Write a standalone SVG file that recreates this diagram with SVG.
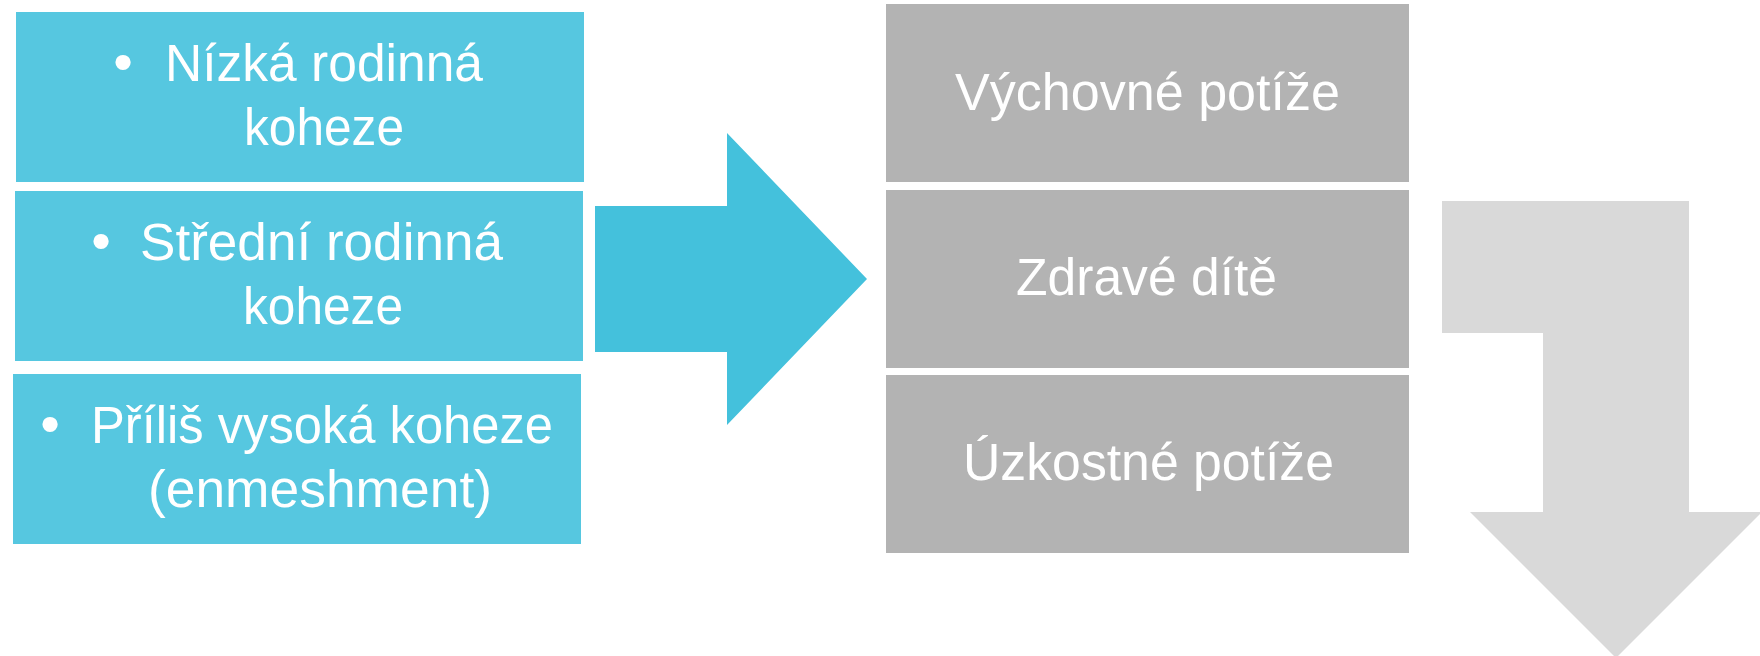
<svg xmlns="http://www.w3.org/2000/svg" width="1760" height="656" viewBox="0 0 1760 656">
<style>
.blue{fill:#56C7E0}
.gray{fill:#B3B3B3}
.t{font-family:"Liberation Sans",Arial,sans-serif;font-size:51px;fill:#FFFFFF}
.b{font-family:"Liberation Sans",Arial,sans-serif;font-size:56px;fill:#FFFFFF;text-anchor:middle}
</style>
<rect width="1760" height="656" fill="#FFFFFF"/>
<g id="n1">
<rect class="blue" x="16" y="12" width="568" height="170"/>
<text class="b" x="123" y="81">•</text>
<text class="t" x="165" y="81" textLength="318" lengthAdjust="spacingAndGlyphs">Nízká rodinná</text>
<text class="t" x="244" y="145" textLength="160" lengthAdjust="spacingAndGlyphs">koheze</text>
</g>
<g id="n2">
<rect class="blue" x="15" y="191" width="568" height="170"/>
<text class="b" x="101" y="260">•</text>
<text class="t" x="140" y="260" textLength="363" lengthAdjust="spacingAndGlyphs">Střední rodinná</text>
<text class="t" x="243" y="324" textLength="160" lengthAdjust="spacingAndGlyphs">koheze</text>
</g>
<g id="n3">
<rect class="blue" x="13" y="374" width="568" height="170"/>
<text class="b" x="50" y="443">•</text>
<text class="t" x="91" y="443" textLength="462" lengthAdjust="spacingAndGlyphs">Příliš vysoká koheze</text>
<text class="t" x="148" y="507" textLength="344" lengthAdjust="spacingAndGlyphs">(enmeshment)</text>
</g>
<g id="n4">
<rect class="gray" x="886" y="4" width="523" height="178"/>
<text class="t" x="955" y="110" textLength="385" lengthAdjust="spacingAndGlyphs">Výchovné potíže</text>
</g>
<g id="n5">
<rect class="gray" x="886" y="190" width="523" height="178"/>
<text class="t" x="1016" y="295" textLength="261" lengthAdjust="spacingAndGlyphs">Zdravé dítě</text>
</g>
<g id="n6">
<rect class="gray" x="886" y="375" width="523" height="178"/>
<text class="t" x="963" y="480" textLength="371" lengthAdjust="spacingAndGlyphs">Úzkostné potíže</text>
</g>
<g id="connectors">
<polygon fill="#44C1DC" points="595,206 727,206 727,133 867,279 727,425 727,352 595,352"/>
<polygon fill="#D9D9D9" points="1442,201 1689,201 1689,512 1762,512 1616,658 1470,512 1543,512 1543,333 1442,333"/>
</g>
</svg>
